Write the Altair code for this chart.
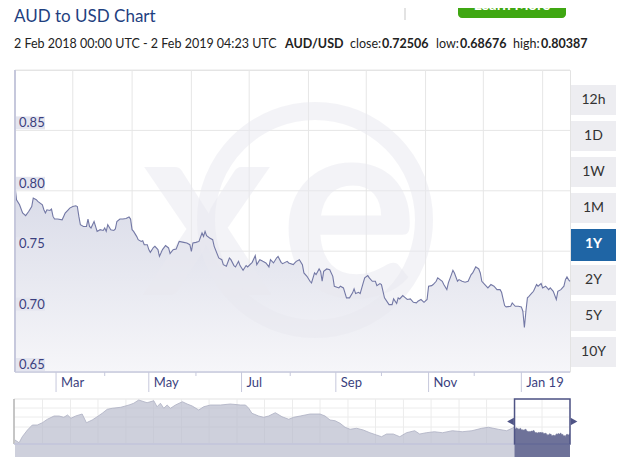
import altair as alt
import pandas as pd

# ---------------- data ----------------
START = pd.Timestamp("2018-02-02")
END = pd.Timestamp("2019-02-02")
NAV_START = pd.Timestamp("2009-02-02")

day_offsets = [0, 1, 3, 5, 7, 9, 11, 12, 14, 15, 18, 19, 20, 21, 23, 24, 25, 26, 28, 31,
               32, 33, 35, 36, 38, 40, 41, 42, 43, 45, 47, 48, 49, 50, 51, 52, 53, 54, 56, 58,
               59, 60, 61, 63, 65, 66, 67, 69, 71, 73, 75, 76, 77, 78, 80, 81, 83, 84, 85, 87,
               88, 89, 91, 92, 94, 95, 97, 99, 101, 102, 104, 106, 108, 111, 113, 115, 116, 117, 119, 121,
               123, 124, 125, 126, 128, 130, 131, 134, 136, 137, 139, 141, 142, 144, 145, 147, 148, 150, 152, 153,
               156, 158, 159, 161, 163, 165, 167, 168, 170, 172, 173, 175, 176, 179, 180, 183, 184, 185, 187, 189,
               190, 192, 194, 195, 197, 198, 200, 201, 202, 203, 205, 207, 209, 210, 213, 214, 216, 218, 220, 222,
               223, 224, 226, 227, 229, 230, 232, 233, 235, 237, 238, 240, 241, 243, 246, 248, 249, 251, 252, 253,
               255, 256, 258, 260, 262, 264, 265, 267, 269, 271, 272, 274, 275, 277, 278, 281, 282, 284, 285, 287,
               288, 289, 291, 292, 294, 296, 298, 300, 301, 303, 305, 306, 307, 309, 311, 313, 315, 317, 319, 320,
               322, 323, 326, 327, 329, 331, 333, 334, 335, 336, 337, 338, 340, 341, 343, 344, 346, 347, 349, 351,
               352, 354, 356, 357, 359, 360, 361, 362, 363, 364, 365]
aud_usd = [0.8039, 0.7926, 0.7884, 0.7816, 0.7794, 0.7829, 0.7870, 0.7940, 0.7926, 0.7912, 0.7884, 0.7843, 0.7816, 0.7843, 0.7837, 0.7849, 0.7788, 0.7766, 0.7766, 0.7760,
           0.7788, 0.7816, 0.7843, 0.7857, 0.7870, 0.7876, 0.7870, 0.7788, 0.7719, 0.7705, 0.7705, 0.7766, 0.7705, 0.7692, 0.7719, 0.7746, 0.7705, 0.7664, 0.7678, 0.7672,
           0.7692, 0.7664, 0.7719, 0.7678, 0.7672, 0.7684, 0.7746, 0.7766, 0.7766, 0.7771, 0.7783, 0.7766, 0.7678, 0.7664, 0.7623, 0.7595, 0.7581, 0.7587, 0.7554, 0.7554,
           0.7513, 0.7490, 0.7530, 0.7540, 0.7513, 0.7457, 0.7513, 0.7546, 0.7527, 0.7480, 0.7513, 0.7518, 0.7581, 0.7573, 0.7568, 0.7554, 0.7499, 0.7568, 0.7573, 0.7581,
           0.7651, 0.7623, 0.7664, 0.7628, 0.7609, 0.7595, 0.7540, 0.7444, 0.7430, 0.7389, 0.7375, 0.7444, 0.7430, 0.7381, 0.7370, 0.7416, 0.7381, 0.7342, 0.7381, 0.7370,
           0.7408, 0.7463, 0.7389, 0.7430, 0.7416, 0.7403, 0.7370, 0.7430, 0.7403, 0.7444, 0.7457, 0.7408, 0.7397, 0.7416, 0.7403, 0.7389, 0.7403, 0.7416, 0.7430, 0.7389,
           0.7320, 0.7292, 0.7251, 0.7238, 0.7320, 0.7306, 0.7353, 0.7333, 0.7251, 0.7333, 0.7353, 0.7347, 0.7292, 0.7210, 0.7196, 0.7210, 0.7196, 0.7114, 0.7114, 0.7155,
           0.7188, 0.7149, 0.7160, 0.7149, 0.7238, 0.7279, 0.7298, 0.7279, 0.7251, 0.7251, 0.7215, 0.7232, 0.7224, 0.7114, 0.7058, 0.7058, 0.7105, 0.7067, 0.7114, 0.7105,
           0.7133, 0.7122, 0.7100, 0.7105, 0.7077, 0.7072, 0.7086, 0.7100, 0.7077, 0.7100, 0.7210, 0.7215, 0.7224, 0.7251, 0.7279, 0.7251, 0.7224, 0.7182, 0.7238, 0.7306,
           0.7342, 0.7320, 0.7251, 0.7265, 0.7251, 0.7243, 0.7251, 0.7306, 0.7320, 0.7370, 0.7353, 0.7320, 0.7251, 0.7224, 0.7196, 0.7224, 0.7210, 0.7182, 0.7182, 0.7160,
           0.7050, 0.7039, 0.7044, 0.7072, 0.7044, 0.7044, 0.7039, 0.7003, 0.6868, 0.7003, 0.7114, 0.7127, 0.7155, 0.7168, 0.7224, 0.7210, 0.7232, 0.7196, 0.7210, 0.7182,
           0.7196, 0.7168, 0.7100, 0.7168, 0.7182, 0.7196, 0.7210, 0.7265, 0.7287, 0.7265, 0.72506]

grid_days = [38, 77, 116, 154, 193, 231, 270, 308, 347]
major_ticks = ["2018-03-01", "2018-05-01", "2018-07-01", "2018-09-01", "2018-11-01", "2019-01-01"]
major_labels = ["Mar", "May", "Jul", "Sep", "Nov", "Jan 19"]
minor_ticks = ["2018-04-02", "2018-06-01", "2018-08-02", "2018-10-01", "2018-12-01"]
y_label_values = [0.65, 0.70, 0.75, 0.80, 0.85]
y_grid_values = [0.65, 0.70, 0.75, 0.80, 0.85, 0.90]

nav_dates = ["2009-02-02", "2009-03-01", "2009-03-22", "2009-04-25", "2009-05-27", "2009-06-29", "2009-08-01", "2009-09-03",
             "2009-10-17", "2009-11-19", "2009-12-20", "2010-01-14", "2010-02-05", "2010-03-08", "2010-04-20", "2010-05-18",
             "2010-06-25", "2010-07-28", "2010-08-30", "2010-10-02", "2010-11-04", "2010-12-30", "2011-02-22", "2011-03-25",
             "2011-04-27", "2011-06-21", "2011-08-04", "2011-08-26", "2011-09-17", "2011-10-09", "2011-10-31", "2011-11-22",
             "2011-12-25", "2012-02-08", "2012-03-11", "2012-04-13", "2012-05-26", "2012-06-28", "2012-08-11", "2012-10-16",
             "2012-12-20", "2013-02-25", "2013-03-30", "2013-04-20", "2013-05-11", "2013-06-24", "2013-07-27", "2013-08-29",
             "2013-10-12", "2013-11-25", "2014-01-08", "2014-02-10", "2014-03-25", "2014-05-29", "2014-08-02", "2014-09-04",
             "2014-10-07", "2014-11-09", "2014-12-12", "2015-01-14", "2015-02-16", "2015-03-31", "2015-05-14", "2015-06-26",
             "2015-08-09", "2015-09-11", "2015-10-14", "2015-11-27", "2016-01-09", "2016-02-22", "2016-04-16", "2016-05-19",
             "2016-07-01", "2016-08-24", "2016-10-16", "2016-12-20", "2017-02-23", "2017-04-28", "2017-07-01", "2017-08-14",
             "2017-10-18", "2017-12-12", "2018-01-20"]
nav_values = [0.659, 0.629, 0.695, 0.769, 0.824, 0.824, 0.849, 0.887,
              0.923, 0.923, 0.909, 0.934, 0.898, 0.923, 0.945, 0.849,
              0.879, 0.915, 0.953, 0.997, 1.008, 1.019, 1.044, 1.063,
              1.099, 1.069, 1.091, 1.025, 1.063, 1.008, 1.044, 1.008,
              1.044, 1.080, 1.055, 1.033, 0.989, 1.025, 1.044, 1.044,
              1.055, 1.044, 1.044, 1.008, 0.953, 0.923, 0.909, 0.923,
              0.959, 0.915, 0.887, 0.909, 0.923, 0.945, 0.945, 0.923,
              0.879, 0.871, 0.843, 0.799, 0.777, 0.788, 0.769, 0.739,
              0.714, 0.695, 0.725, 0.725, 0.695, 0.739, 0.761, 0.725,
              0.739, 0.750, 0.739, 0.761, 0.750, 0.761, 0.788, 0.799,
              0.777, 0.761, 0.790]
nav_grid_dates = ["2009-08-02", "2010-02-02", "2010-08-02", "2011-02-02", "2011-08-02", "2012-02-02", "2012-08-02",
                  "2013-02-02", "2013-08-02", "2014-02-02", "2014-08-02", "2015-02-02", "2015-08-02", "2016-02-02",
                  "2016-08-02", "2017-02-02", "2017-08-02", "2018-02-02", "2018-08-02"]
NAV_LO, NAV_HI = 0.615, 1.11

ranges = ["12h", "1D", "1W", "1M", "1Y", "2Y", "5Y", "10Y"]
selected_range = "1Y"

title_text = "AUD to USD Chart"
subtitle_parts = [("2 Feb 2018 00:00 UTC - 2 Feb 2019 04:23 UTC", "normal", -1),
                  ("AUD/USD", "bold", 270), ("close:", "normal", 335), ("0.72506", "bold", 367),
                  ("low:", "normal", 421), ("0.68676", "bold", 445), ("high:", "normal", 498),
                  ("0.80387", "bold", 526)]

# ---------------- layout ----------------
W, H = 555, 302
NAV_TOP, NAV_BOT = 329, 374
FONT = "Lato"
NAVY = "#3b3f7e"


def ms(d):
    return int(pd.Timestamp(d).value // 10**6)


def iso(ts):
    return ts.strftime("%Y-%m-%d")


main_dates = [iso(START + pd.Timedelta(days=d)) for d in day_offsets]
main_df = pd.DataFrame({"date": main_dates, "rate": aud_usd})
grid_df = pd.DataFrame({"date": [iso(START + pd.Timedelta(days=d)) for d in grid_days]})
major_df = pd.DataFrame({"date": major_ticks, "label": major_labels})
minor_df = pd.DataFrame({"date": minor_ticks})
ylab_df = pd.DataFrame({"v": y_label_values, "t": [f"{v:.2f}" for v in y_label_values]})
ygrid_df = pd.DataFrame({"v": y_grid_values})
nav_df = pd.DataFrame({"date": nav_dates + main_dates, "rate": nav_values + aud_usd})
navgrid_df = pd.DataFrame({"date": nav_grid_dates})
one = pd.DataFrame({"k": [0]})

xs = alt.Scale(type="utc", domain=[ms(START), ms(END)], nice=False)
ys = alt.Scale(domain=[0.65, 0.90], zero=False, nice=False)

# navigator: its own y-scale, placed in the band below the main plot
S = (NAV_HI - NAV_LO) * H / (NAV_BOT - NAV_TOP)
nav_hi_dom = NAV_LO + NAV_BOT * S / H
nav_lo_dom = nav_hi_dom - S
nxs = alt.Scale(type="utc", domain=[ms(NAV_START), ms(END)], nice=False)
nys = alt.Scale(domain=[nav_lo_dom, nav_hi_dom], zero=False, nice=False)


def X(field="date:T"):
    return alt.X(field, scale=xs, axis=None)


def Y(field="rate:Q"):
    return alt.Y(field, scale=ys, axis=None)


def NX(field="date:T"):
    return alt.X(field, scale=nxs, axis=None)


AXC = "#c6c8dc"

hgrid = alt.Chart(ygrid_df).mark_rule(color="#e6e6e6").encode(y=Y("v:Q"), x=alt.value(0), x2=alt.value(W))
vgrid = alt.Chart(grid_df).mark_rule(color="#e6e6e6", clip=True).encode(x=X(), y=alt.value(0), y2=alt.value(H))

area = alt.Chart(main_df).mark_area(
    clip=True,
    color=alt.Gradient(gradient="linear",
                       stops=[alt.GradientStop(color="#d9dbe8", offset=0),
                              alt.GradientStop(color="#f6f6f9", offset=1)],
                       x1=1, x2=1, y1=0, y2=1)
).encode(x=X(), y=Y(), y2=alt.Y2Datum(0.65))

wm_color = "#e9e9f0"
wm_ring = alt.Chart(one).mark_point(shape="circle", size=47524, filled=False, strokeWidth=18,
                                     color=wm_color, opacity=0.5, clip=True).encode(x=alt.value(300), y=alt.value(150))
wm_x = alt.Chart(one).mark_text(text="x", font=FONT, fontWeight="bold", fontSize=250, color=wm_color,
                                opacity=0.5, baseline="middle", align="center").encode(x=alt.value(192), y=alt.value(150))
wm_e = alt.Chart(one).mark_text(text="e", font=FONT, fontWeight="bold", fontSize=258, color=wm_color,
                                opacity=0.5, baseline="middle", align="center").encode(x=alt.value(334), y=alt.value(150))

line = alt.Chart(main_df).mark_line(color="#7378a5", strokeWidth=1.1).encode(x=X(), y=Y())

# white strip between the plot and the navigator (axis label area)
strip = alt.Chart(one).mark_rect(color="white").encode(
    x=alt.value(-1), x2=alt.value(W + 1), y=alt.value(H + 0.5), y2=alt.value(NAV_TOP - 0.5))

x_domain = alt.Chart(one).mark_rule(color=AXC, strokeWidth=1.5).encode(
    x=alt.value(0), x2=alt.value(W), y=alt.value(H))
y_domain = alt.Chart(one).mark_rule(color=AXC, strokeWidth=2).encode(
    x=alt.value(0), y=alt.value(0), y2=alt.value(H))
major_tk = alt.Chart(major_df).mark_rule(color=AXC).encode(x=X(), y=alt.value(H), y2=alt.value(H + 20))
minor_tk = alt.Chart(minor_df).mark_rule(color=AXC).encode(x=X(), y=alt.value(H), y2=alt.value(H + 4))
major_lb = alt.Chart(major_df).mark_text(align="left", baseline="middle", dx=5, font=FONT, fontSize=13,
                                         color=NAVY).encode(x=X(), y=alt.value(H + 11), text="label:N")

ybox = alt.Chart(ylab_df).mark_rect(color="#e4e5ef", yOffset=-14, y2Offset=-1).encode(
    x=alt.value(1), x2=alt.value(30), y=Y("v:Q"), y2="v:Q")
ytext = alt.Chart(ylab_df).mark_text(align="left", baseline="alphabetic", dy=-3, font=FONT,
                                     fontSize=13, color=NAVY).encode(x=alt.value(4), y=Y("v:Q"), text="t:N")

deco = []
deco.append(alt.Chart(one).mark_text(text=title_text, font=FONT, fontSize=17, color="#1f3f7f",
                                     align="left", baseline="alphabetic").encode(x=alt.value(-1), y=alt.value(-48)))
for txt, wt, xx in subtitle_parts:
    deco.append(alt.Chart(one).mark_text(text=txt, font=FONT, fontSize=12.5, fontWeight=wt, color="#222222",
                                         align="left", baseline="alphabetic").encode(x=alt.value(xx), y=alt.value(-22)))
deco.append(alt.Chart(one).mark_rule(color="#dadada", strokeWidth=1.5).encode(
    x=alt.value(390), y=alt.value(-70), y2=alt.value(-50)))
deco.append(alt.Chart(one).mark_rect(color="#3fa712", cornerRadius=4).encode(
    x=alt.value(443), x2=alt.value(551), y=alt.value(-80), y2=alt.value(-52)))
deco.append(alt.Chart(one).mark_text(text="Learn More", font=FONT, fontSize=15, fontWeight="bold", color="white",
                                     align="center", baseline="middle").encode(x=alt.value(497), y=alt.value(-65)))
for i, r in enumerate(ranges):
    top = 15 + 36 * i
    sel = r == selected_range
    deco.append(alt.Chart(one).mark_rect(color="#1f65a5" if sel else "#ededf1").encode(
        x=alt.value(556), x2=alt.value(601), y=alt.value(top), y2=alt.value(top + 30 + (2 if sel else 0))))
    deco.append(alt.Chart(one).mark_text(text=r, font=FONT, fontSize=14, fontWeight="bold" if sel else "normal",
                                         color="white" if sel else "#333333", align="center", baseline="middle").encode(
        x=alt.value(578.5), y=alt.value(top + 15)))

# ---------------- navigator ----------------
nav_bg = alt.Chart(one).mark_rect(fillOpacity=0, stroke="#e3e3e3").encode(
    x=alt.value(-1), x2=alt.value(W), y=alt.value(NAV_TOP), y2=alt.value(NAV_BOT))
nav_vgrid = alt.Chart(navgrid_df).mark_rule(color="#ececec").encode(
    x=NX(), y=alt.value(NAV_TOP), y2=alt.value(NAV_BOT))
nav_h = [alt.Chart(one).mark_rule(color="#ececec").encode(x=alt.value(-1), x2=alt.value(W), y=alt.value(p))
         for p in (338, 347, 357)]
nav_area = alt.Chart(nav_df).mark_area(color="#b9bccd", line={"color": "#adb0c3", "strokeWidth": 0.8}).encode(
    x=NX(), y=alt.Y("rate:Q", scale=nys, axis=None), y2=alt.value(NAV_BOT))
nav_sel_area = alt.Chart(main_df).mark_area(color="#6e7299").encode(
    x=NX(), y=alt.Y("rate:Q", scale=nys, axis=None), y2=alt.value(NAV_BOT))
nav_left = alt.Chart(one).mark_rule(color="#9a9a9a").encode(x=alt.value(-1), y=alt.value(NAV_TOP), y2=alt.value(NAV_BOT))
nav_bottom = alt.Chart(one).mark_rule(color="#c3c6dc", strokeWidth=1.5).encode(
    x=alt.value(-1), x2=alt.value(W), y=alt.value(NAV_BOT))
nav_sel = alt.Chart(main_df).mark_rect(fillOpacity=0, stroke="#4f5486", strokeWidth=1.5).encode(
    x=NX("min(date):T"), x2="max(date):T", y=alt.value(NAV_TOP), y2=alt.value(NAV_BOT))
nav_hl = alt.Chart(main_df).mark_point(shape="triangle-left", filled=True, size=60, color="#4f5486",
                                        opacity=1, xOffset=-4).encode(
    x=NX("min(date):T"), y=alt.value((NAV_TOP + NAV_BOT) / 2))
nav_hr = alt.Chart(main_df).mark_point(shape="triangle-right", filled=True, size=60, color="#4f5486",
                                        opacity=1, xOffset=4).encode(
    x=NX("max(date):T"), y=alt.value((NAV_TOP + NAV_BOT) / 2))

layers = [hgrid, vgrid, area, wm_ring, wm_x, wm_e, line, strip, x_domain, y_domain, major_tk, minor_tk, major_lb,
          ybox, ytext, *deco,
          nav_bg, nav_vgrid, *nav_h, nav_area, nav_sel_area, nav_left, nav_bottom, nav_sel, nav_hl, nav_hr]

chart = alt.layer(*layers).resolve_scale(x="independent", y="independent").properties(
    width=W, height=H,
    padding={"left": 7, "top": 62, "right": 62, "bottom": 85},
    autosize=alt.AutoSizeParams(type="none"),
    background="white",
).configure_view(stroke="#e3e3e3")

chart.save("out.html", embed_options={"renderer": "svg", "actions": False})
